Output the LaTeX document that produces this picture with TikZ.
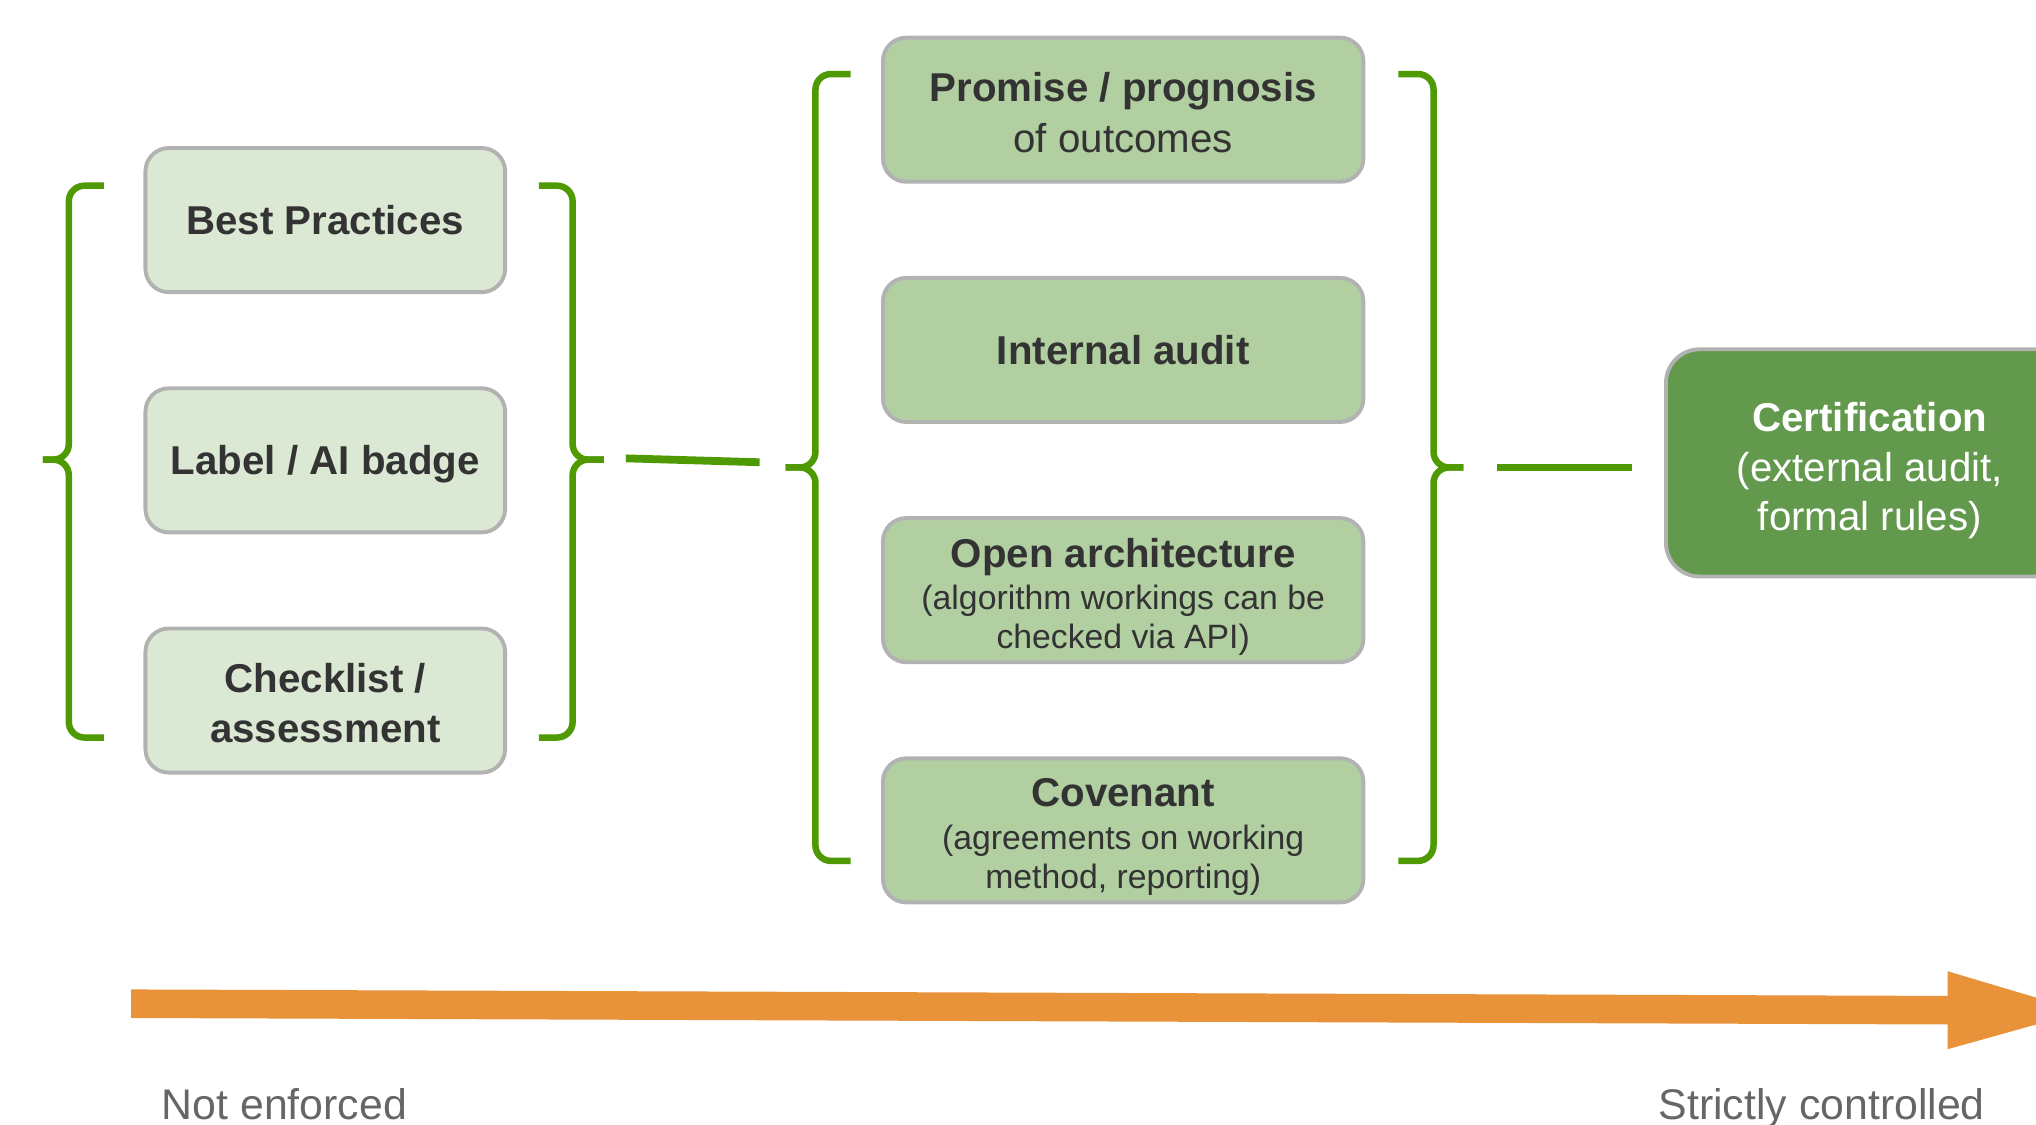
\documentclass[tikz,border=0pt]{standalone}
\usepackage{fontspec}
\setmainfont{Liberation Sans}
\definecolor{lightfill}{HTML}{DBE8D3}
\definecolor{midfill}{HTML}{B1CFA1}
\definecolor{darkfill}{HTML}{62994C}
\definecolor{boxborder}{HTML}{B2B2B2}
\definecolor{bracegreen}{HTML}{4F9A02}
\definecolor{orangec}{HTML}{E8923A}
\definecolor{textdark}{HTML}{333333}
\definecolor{labelgray}{HTML}{666666}
\newcommand{\toppad}[1]{\rule{0pt}{#1}}
\begin{document}
\begin{tikzpicture}[x=1pt,y=-1pt,
  box/.style={draw=boxborder, line width=3pt, rounded corners=18pt, inner sep=0pt, align=center, text=textdark},
  light/.style={box, fill=lightfill, minimum width=277pt, minimum height=111pt, font=\fontsize{31}{39}\selectfont\bfseries},
  mid/.style={box, fill=midfill, minimum width=370pt, minimum height=111pt},
  brace/.style={draw=bracegreen, line width=5pt, rounded corners=12pt},
  link/.style={draw=bracegreen, line width=6pt},
  endlabel/.style={text=labelgray, font=\fontsize{33}{40}\selectfont, anchor=base}
]
\useasboundingbox (0,0) rectangle (1568,866);
\clip (0,0) rectangle (1568,866);

% left column
\node[light] (bp) at (250.5,169.5) {Best Practices};
\node[light] (lab) at (250.5,354.5) {\toppad{28.6pt}Label / AI badge};
\node[light] (chk) at (250.5,539.5) {\toppad{26.6pt}Checklist /\\assessment};

% middle column
\node[mid, font=\fontsize{31}{39}\selectfont] (prom) at (865,84.5) {\toppad{26.6pt}\textbf{Promise / prognosis}\\of outcomes};
\node[mid, font=\fontsize{31}{39}\selectfont\bfseries] (ia) at (865,269.5) {Internal audit};
\node[mid, font=\fontsize{26}{30}\selectfont] (oa) at (865,454.5) {\toppad{32.6pt}{\fontsize{31}{39}\selectfont\bfseries Open architecture}\\[2pt](algorithm workings can be\\checked via API)};
\node[mid, font=\fontsize{26}{30}\selectfont] (cov) at (865,639.5) {\toppad{31.6pt}{\fontsize{31}{39}\selectfont\bfseries Covenant}\\[3pt](agreements on working\\method, reporting)};

% certification
\node[box, fill=darkfill, text=white, minimum width=314pt, minimum height=175pt, rounded corners=26pt, font=\fontsize{31}{38}\selectfont] (cert) at (1440,356.5) {\toppad{34.6pt}\textbf{Certification}\\(external audit,\\formal rules)};

% braces
\draw[brace] (80,143) -| (53,354) -- (33,354);
\draw[brace] (33,354) -- (53,354) |- (80,568);
\draw[brace] (415,143) -| (441,354) -- (465,354);
\draw[brace] (465,354) -- (441,354) |- (415,568);
\draw[brace] (655,57) -| (628,360) -- (605,360);
\draw[brace] (605,360) -- (628,360) |- (655,663);
\draw[brace] (1077,57) -| (1104,360) -- (1127,360);
\draw[brace] (1127,360) -- (1104,360) |- (1077,663);

% links
\coordinate (l1a) at (482,353);
\coordinate (l1b) at (585,356);
\coordinate (l2a) at (1153,360);
\coordinate (l2b) at (1257,360);
\draw[link] (l1a) -- (l1b);
\draw[link] (l2a) -- (l2b);

% big arrow
\coordinate (a1) at (101,762);
\coordinate (a2) at (1500,767);
\coordinate (a3) at (1500,748);
\coordinate (a4) at (1604,779);
\coordinate (a5) at (1500,808);
\coordinate (a6) at (1500,789);
\coordinate (a7) at (101,784);
\fill[orangec] (a1) -- (a2) -- (a3) -- (a4) -- (a5) -- (a6) -- (a7) -- cycle;

% end labels
\node[endlabel] (ne) at (219,862) {Not enforced};
\node[endlabel] (sc) at (1403,862) {Strictly controlled};
\end{tikzpicture}
\end{document}
